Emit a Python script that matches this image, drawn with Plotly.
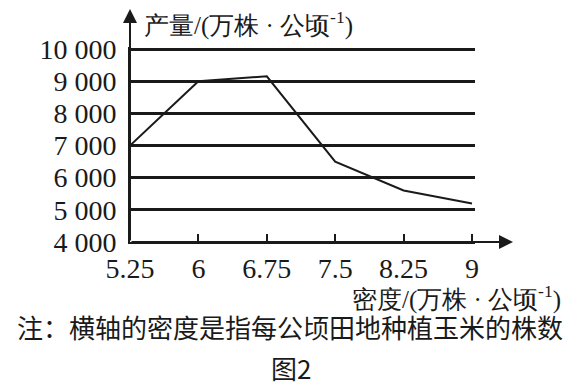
import plotly.graph_objects as go

density = [5.25, 6, 6.75, 7.5, 8.25, 9]
yield_vals = [7000, 9000, 9150, 6500, 5600, 5200]
x_tick_labels = ["5.25", "6", "6.75", "7.5", "8.25", "9"]
y_tick_vals = [4000, 5000, 6000, 7000, 8000, 9000, 10000]
y_tick_labels = ["4 000", "5 000", "6 000", "7 000", "8 000", "9 000", "10 000"]

SERIF = "Liberation Serif"
CJK = "Noto Sans CJK SC"
INK = "#1a1a1a"

# page has an 8px body margin: work in page pixels, convert to figure pixels
OFF = 8
W, H = 579 - OFF, 386 - OFF
L = 130 - OFF
R = W - (475 - OFF)
T = 47 - OFF
B = H - (242 - OFF)
pw, ph = W - L - R, H - T - B

px_per_unit = (472 - 130) / 3.75
x_right = 9 + (475 - 472) / px_per_unit
y_top = 10000 + 2 / ((242 - 49) / 6000)


def py(page_y):
    return (T + ph - (page_y - OFF)) / ph


def px(page_x):
    return ((page_x - OFF) - L) / pw


fig = go.Figure()
fig.add_trace(go.Scatter(x=density, y=yield_vals, mode="lines",
                         line=dict(color=INK, width=2), showlegend=False,
                         cliponaxis=False))

fig.update_layout(
    width=W, height=H, margin=dict(l=L, r=R, t=T, b=B),
    paper_bgcolor="white", plot_bgcolor="white",
    xaxis=dict(range=[5.25, x_right], tickvals=density, ticktext=x_tick_labels,
               ticks="inside", ticklen=8, tickwidth=2, tickcolor=INK,
               showgrid=False, zeroline=False, showline=True, linecolor=INK, linewidth=2,
               tickfont=dict(family=SERIF, size=28, color=INK)),
    yaxis=dict(range=[4000, y_top], tickvals=y_tick_vals, ticktext=y_tick_labels,
               ticks="", showgrid=True, gridcolor=INK, gridwidth=2.5,
               zeroline=False, showline=True, linecolor=INK, linewidth=2,
               ticklabelstandoff=6,
               tickfont=dict(family=SERIF, size=28, color=INK)),
)

fig.add_annotation(xref="paper", yref="paper", x=0, y=py(9),
                   ax=0, ay=242 - 9, axref="pixel", ayref="pixel",
                   showarrow=True, arrowhead=2, arrowsize=1.4, arrowwidth=2,
                   arrowcolor=INK, text="")
fig.add_annotation(xref="paper", yref="paper", x=px(513), y=0,
                   ax=-(513 - 130), ay=0, axref="pixel", ayref="pixel",
                   showarrow=True, arrowhead=2, arrowsize=1.4, arrowwidth=2,
                   arrowcolor=INK, text="")

fig.add_annotation(xref="paper", yref="paper", x=px(142), y=py(23),
                   xanchor="left", yanchor="middle", showarrow=False,
                   text="产量/(万株 · 公顷<sup>-1</sup>)",
                   font=dict(family=SERIF, size=25, color=INK))
fig.add_annotation(xref="paper", yref="paper", x=px(563), y=py(297),
                   xanchor="right", yanchor="middle", showarrow=False,
                   text="密度/(万株 · 公顷<sup>-1</sup>)",
                   font=dict(family=SERIF, size=25, color=INK))
fig.add_annotation(xref="paper", yref="paper", x=px(290), y=py(326),
                   xanchor="center", yanchor="middle", showarrow=False,
                   text="注：横轴的密度是指每公顷田地种植玉米的株数",
                   font=dict(family=CJK, size=26, color=INK))
fig.add_annotation(xref="paper", yref="paper", x=px(291), y=py(367),
                   xanchor="center", yanchor="middle", showarrow=False,
                   text="图2",
                   font=dict(family=CJK, size=26, color=INK))

fig.write_html("out.html")
